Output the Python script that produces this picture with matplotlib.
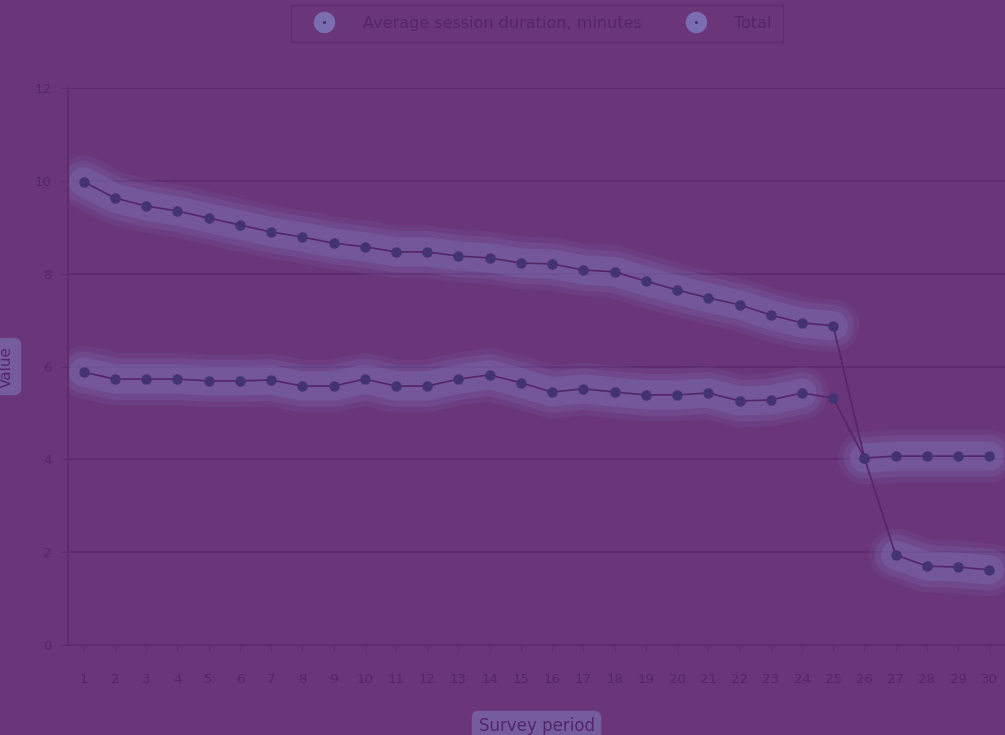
import matplotlib.pyplot as plt
import numpy as np

# survey periods 1..30
periods = list(range(1, 31))

# upper series: periods 1-30
upper = [9.98, 9.63, 9.46, 9.35, 9.20, 9.05, 8.90, 8.79, 8.66, 8.58,
         8.47, 8.47, 8.38, 8.34, 8.23, 8.21, 8.08, 8.04, 7.84, 7.65,
         7.48, 7.33, 7.11, 6.94, 6.88, 4.03, 4.07, 4.07, 4.07, 4.07]

# lower series: periods 1-30
lower = [5.88, 5.73, 5.73, 5.73, 5.69, 5.69, 5.71, 5.58, 5.58, 5.73,
         5.58, 5.58, 5.73, 5.82, 5.65, 5.45, 5.52, 5.45, 5.39, 5.39,
         5.43, 5.26, 5.28, 5.43, 5.32, 4.03, 1.94, 1.70, 1.68, 1.62]

labels = ["Average session duration, minutes", "Total"]
yticks = [0, 2, 4, 6, 8, 10, 12]

bg = "#6a3579"
grid_c = "#5e2b6e"
glow = "#7a6eb0"
dot_c = "#443372"
line_c = "#55256a"
text_c = "#55256a"

fig = plt.figure(figsize=(10.05, 7.35), dpi=100)
fig.patch.set_facecolor(bg)
ax = fig.add_axes([0.0677, 0.1224, 0.9323, 0.7578])
ax.set_facecolor(bg)

x = np.array(periods)


def draw_series(vals, glow_parts):
    vals = np.array(vals)
    for a, b in glow_parts:
        xs, ys = x[a:b], vals[a:b]
        for lw, al in [(38, 0.15), (30, 0.25), (21, 0.4)]:
            ax.plot(xs, ys, color=glow, lw=lw, alpha=al,
                    solid_capstyle="round", zorder=2)
    ax.plot(x, vals, color=line_c, lw=1.2, zorder=3)
    ax.plot(x, vals, "o", color=dot_c, ms=6.5, zorder=4)


draw_series(upper, [(0, 25), (25, 30)])
draw_series(lower, [(0, 24), (26, 30)])

ax.set_xlim(0.5, 30.5)
ax.set_ylim(0, 12)
ax.set_yticks(yticks)
ax.set_xticks(periods)
ax.set_xticklabels([str(p) for p in periods])
ax.yaxis.grid(True, color=grid_c, lw=1.3)
ax.set_axisbelow(True)
for s in ["top", "right"]:
    ax.spines[s].set_visible(False)
for s in ["left", "bottom"]:
    ax.spines[s].set_color(grid_c)
    ax.spines[s].set_linewidth(1.3)
ax.tick_params(colors=grid_c, labelcolor=text_c, labelsize=9.5, length=4)
ax.tick_params(axis="x", pad=16)
ax.tick_params(axis="y", pad=8)

ax.set_xlabel("Survey period", fontsize=12, color=text_c,
              bbox=dict(boxstyle="round,pad=0.4", fc=glow, ec="none", alpha=0.7))
ax.xaxis.set_label_coords(0.5, -0.13)
ax.set_ylabel("Value", fontsize=11, color=text_c,
              bbox=dict(boxstyle="round,pad=0.5", fc=glow, ec="none", alpha=0.7))
ax.yaxis.set_label_coords(-0.058, 0.5)

h1 = ax.plot([], [], "o", color=dot_c, ms=6.5, mec=glow, mew=9)[0]
h2 = ax.plot([], [], "o", color=dot_c, ms=6.5, mec=glow, mew=9)[0]
leg = fig.legend([h1, h2], labels, loc="lower center", ncol=2,
                 bbox_to_anchor=(0.534, 0.943), fontsize=11.5, frameon=True,
                 handlelength=2.8, handletextpad=1.0, columnspacing=2.0,
                 borderpad=0.7, borderaxespad=0)
leg.get_frame().set_facecolor(bg)
leg.get_frame().set_edgecolor(grid_c)
leg.get_frame().set_boxstyle("square,pad=0")
for t in leg.get_texts():
    t.set_color(text_c)

fig.savefig("out.png", dpi=100, facecolor=bg)
